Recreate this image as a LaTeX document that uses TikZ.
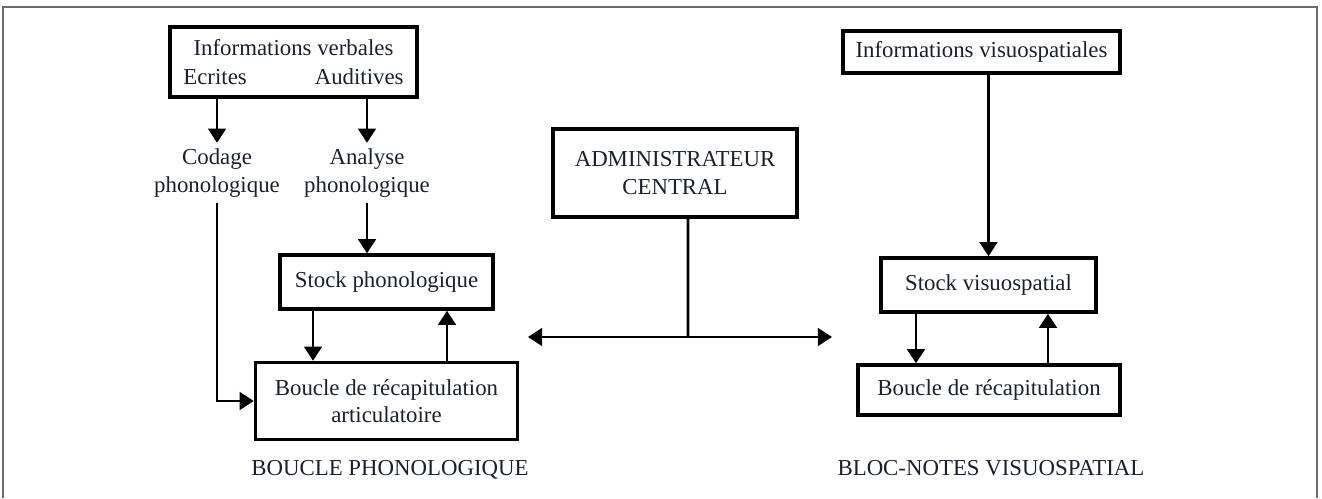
\documentclass[tikz,border=0pt]{standalone}
\usepackage{fontspec}
\setmainfont{Liberation Serif}
\usetikzlibrary{arrows.meta}
\definecolor{TexteClr}{rgb}{0.1,0.13,0.18}
\definecolor{CadreClr}{rgb}{0.42,0.42,0.42}

\begin{document}
\begin{tikzpicture}[x=0.02cm,y=-0.02cm,
  every node/.style={font=\fontsize{13}{15.5}\selectfont,text=TexteClr},
  boite/.style={draw,line width=2pt,align=center,inner sep=0pt},
  pointe/.tip={Triangle[length=8pt,width=10pt]},
  fleche/.style={line width=1.5pt,-pointe},
  trait/.style={line width=1.5pt}]
\useasboundingbox (0,0) rectangle (1322,498);

% cadre
\draw[CadreClr,line width=1.3pt] (3,498) -- (3,7) -- (1317,7) -- (1317,498);

% boucle phonologique
\node[boite,minimum width=4.94cm,minimum height=1.4cm] (verb) at (293.5,62)
  {Informations verbales\\[1pt]Ecrites\hspace{1.36cm}Auditives};
\node[align=center] (codage) at (217,173) {Codage\\phonologique};
\node[align=center] (analyse) at (367,173) {Analyse\\phonologique};
\node[boite,minimum width=4.26cm,minimum height=1.08cm] (stockp) at (386.5,282) {Stock phonologique};
\node[boite,minimum width=5.24cm,minimum height=1.54cm] (bouclep) at (386.5,401)
  {Boucle de récapitulation\\articulatoire};
\node (labp) at (390,470) {BOUCLE PHONOLOGIQUE};

\draw[fleche] (verb.south -| codage) -- (codage.north);
\draw[fleche] (verb.south -| analyse) -- (analyse.north);
\draw[fleche] (codage.south) |- (bouclep.west);
\draw[fleche] (analyse.south) -- (analyse.south |- stockp.north);
\draw[fleche] ([xshift=-1.47cm]stockp.south) -- ([xshift=-1.47cm]bouclep.north);
\draw[fleche] ([xshift=1.21cm]bouclep.north) -- ([xshift=1.21cm]stockp.south);

% administrateur central
\node[boite,minimum width=4.88cm,minimum height=1.76cm] (admin) at (675,173)
  {ADMINISTRATEUR\\CENTRAL};
\coordinate (jonction) at (688,337);
\coordinate (gauche) at (528,337);
\coordinate (droite) at (832,337);
\draw[trait] ([xshift=0.26cm]admin.south) -- (jonction);
\draw[trait,pointe-pointe] (gauche) -- (droite);

% bloc-notes visuospatial
\node[boite,minimum width=5.54cm,minimum height=0.84cm] (visuo) at (981.5,52) {Informations visuospatiales};
\node[boite,minimum width=4.3cm,minimum height=1.08cm] (stockv) at (988.5,285) {Stock visuospatial};
\node[boite,minimum width=5.24cm,minimum height=1cm] (bouclev) at (989,390) {Boucle de récapitulation};
\node (labv) at (991,468) {BLOC-NOTES VISUOSPATIAL};

\draw[fleche] (visuo.south -| stockv) -- (stockv.north);
\draw[fleche] ([xshift=-1.45cm]stockv.south) -- ([xshift=-1.45cm]stockv.south |- bouclev.north);
\draw[fleche] ([xshift=1.19cm]stockv.south |- bouclev.north) -- ([xshift=1.19cm]stockv.south);

\end{tikzpicture}
\end{document}
